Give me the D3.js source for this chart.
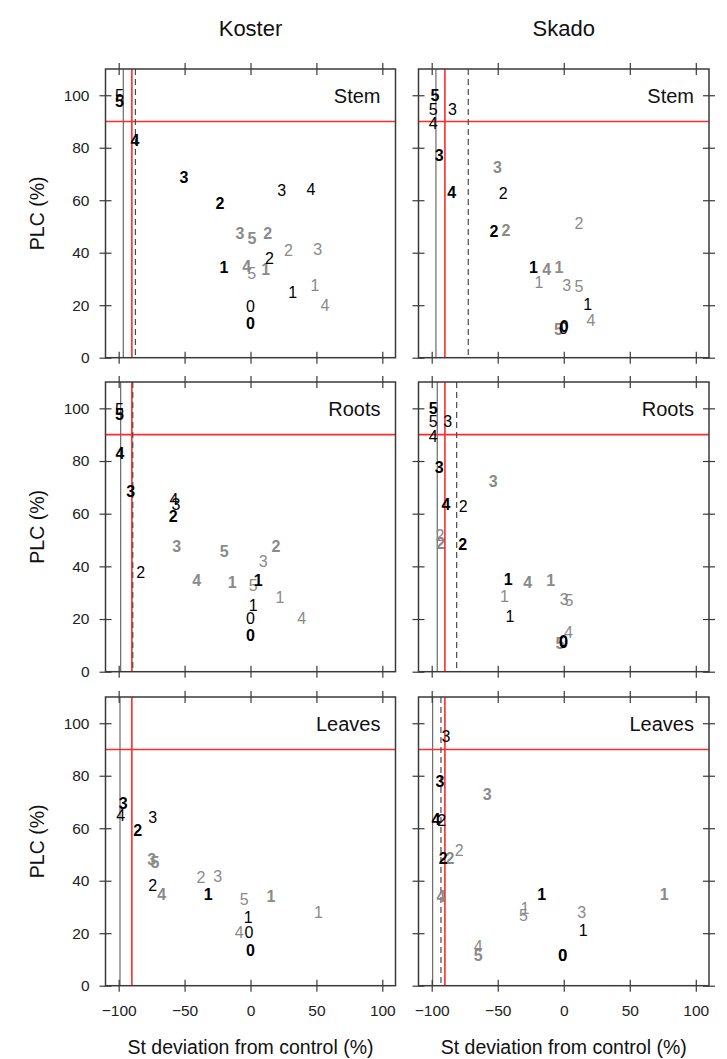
<!DOCTYPE html>
<html><head><meta charset="utf-8">
<script src="https://cdn.jsdelivr.net/npm/d3@7"></script>
<style>
body{margin:0;background:#fff}
text{font-family:"Liberation Sans",Arial,Helvetica,sans-serif}
</style>
</head><body>
<svg id="c" width="727" height="1059"></svg>
<script>
// ---------- data ----------
const cultivars = ["Koster", "Skado"];
const organs = ["Stem", "Roots", "Leaves"];
const pointLabels = ["0", "1", "2", "3", "4", "5"];
const xTicks = [-100, -50, 0, 50, 100];
const yTicks = [0, 20, 40, 60, 80, 100];
const xTitle = "St deviation from control (%)";
const yTitle = "PLC (%)";

// each array: [x, y] for labels 0..5 (null = not shown)
const kosterStemBlackBold   = [[0,13.1],[-20.1,34.3],[-23.1,58.9],[-50.5,68.8],[-87.6,82.7],[-99.5,97.6]];
const kosterStemBlackNormal = [[0,19.6],[32,24.7],[14.3,37.8],[23.6,63.7],[45.9,64],[-99.5,100]];
const kosterStemGreyBold    = [null,[11.5,33.6],[13,47.3],[-8,47.5],[-2.9,34.8],[1.1,45.4]];
const kosterStemGreyNormal  = [null,[48.9,27.6],[28.7,40.9],[51,41.2],[56.5,20],[0.9,32.1]];

const skadoStemBlackBold    = [[0.4,11.8],[-23,34.3],[-52.8,47.9],[-94.3,77],[-84.9,63],[-97.5,99.8]];
const skadoStemBlackNormal  = [[-0.3,11.2],[18.1,20.4],[-45.8,62.5],[-84.2,94.4],[-98.8,89.1],[-98.8,94.4]];
const skadoStemGreyBold     = [null,[-3.6,34.3],[-43.7,48.5],[-50.3,72.3],[-12.9,33.6],[-4.1,10.8]];
const skadoStemGreyNormal   = [null,[-18.8,28.5],[11.6,51],[2.2,27.4],[20.6,14.3],[11.6,27]];

const kosterRootsBlackBold   = [[0,13.6],[5.9,34.6],[-58.6,59.1],[-90.9,68.6],[-99,83],[-99.5,97.8]];
const kosterRootsBlackNormal = [[0,20.3],[2.1,25],[-83.3,37.7],[-56.5,63.4],[-58,65.2],[-99.5,99.7]];
const kosterRootsGreyBold    = [null,[-13.8,33.9],[19.3,47.4],[-56,47.4],[-40.8,34.7],[-19.9,45.7]];
const kosterRootsGreyNormal  = [null,[22.4,28],null,[9.7,41.7],[38.8,20.3],[2.1,32.7]];

const skadoRootsBlackBold    = [[-0.3,11.4],[-42,34.9],[-76.6,48.3],[-94.3,77.5],[-89.2,63.5],[-98.8,100]];
const skadoRootsBlackNormal  = [[-0.3,11],[-40.7,21],[-76.1,62.9],[-87.9,94.9],[-98.8,89.3],[-98.8,94.9]];
const skadoRootsGreyBold     = [null,[-9.9,34.6],[-93.2,48.7],[-53.4,72.4],[-27.3,33.7],[-2.8,10.6]];
const skadoRootsGreyNormal   = [null,[-45,28.6],[-93.8,51.8],[0.4,27.3],[3.5,14.9],[4,27.1]];

const kosterLeavesBlackBold   = [[0,13.5],[-32,34.6],[-85.6,59.3],[-96.5,69.5],null,null];
const kosterLeavesBlackNormal = [[-1.1,20.2],[-1.7,26.1],[-74.2,38],[-74.2,64.2],[-98.5,64.8],null];
const kosterLeavesGreyBold    = [null,[15.6,33.9],null,[-75,47.9],[-67.4,34.9],[-72.5,46.9]];
const kosterLeavesGreyNormal  = [null,[51.5,27.8],[-37.6,41.3],[-24.9,41.5],[-8.5,20.2],[-4.7,32.9]];

const skadoLeavesBlackBold    = [[-0.8,11.4],[-16.7,34.6],[-91.2,48.3],[-93.8,77.7],[-96.8,63.4],null];
const skadoLeavesBlackNormal  = [[-0.8,11.4],[14.8,21.2],[-92.5,62.9],[-89.2,94.9],null,null];
const skadoLeavesGreyBold     = [null,[76,34.6],[-86.2,48.5],[-57.9,72.9],[-93,33.9],[-64.7,11.4]];
const skadoLeavesGreyNormal   = [null,[-29.4,29.5],[-79.1,51.5],[13.6,27.8],[-64.7,14.9],[-30.6,26.9]];

// reference lines, panel order: Koster/Skado x Stem/Roots/Leaves
const solidLineX  = [-96.5, -96.8, -98.5, -95.8, -99, -99.3];
const dashedLineX = [-87.3, -72.3, -89.3, -81.1, null, -93];
const redLineX = -90;
const redLineY = 90;

// ---------- layout ----------
const panelData = [
  [kosterStemGreyNormal, kosterStemGreyBold, kosterStemBlackNormal, kosterStemBlackBold],
  [skadoStemGreyNormal, skadoStemGreyBold, skadoStemBlackNormal, skadoStemBlackBold],
  [kosterRootsGreyNormal, kosterRootsGreyBold, kosterRootsBlackNormal, kosterRootsBlackBold],
  [skadoRootsGreyNormal, skadoRootsGreyBold, skadoRootsBlackNormal, skadoRootsBlackBold],
  [kosterLeavesGreyNormal, kosterLeavesGreyBold, kosterLeavesBlackNormal, kosterLeavesBlackBold],
  [skadoLeavesGreyNormal, skadoLeavesGreyBold, skadoLeavesBlackNormal, skadoLeavesBlackBold]
];
const seriesStyle = [
  {fill:"#8a8a8a", weight:"normal"},
  {fill:"#8a8a8a", weight:"bold"},
  {fill:"#000", weight:"normal"},
  {fill:"#000", weight:"bold"}
];

const colX = [[105.5, 395.5], [418.5, 709]];
const rowY = [[69, 357.7], [382, 671.7], [697, 985.7]];
const boxColor = "#3a3a3a";
const tickLen = 6;

const svg = d3.select("#c");
svg.append("rect").attr("width",727).attr("height",1059).attr("fill","#fff");

// column titles
cultivars.forEach((c, ci) => {
  svg.append("text").attr("x", (colX[ci][0]+colX[ci][1])/2).attr("y", 36)
    .attr("text-anchor","middle").attr("font-size", 22).attr("fill","#111").text(c);
  svg.append("text").attr("x", (colX[ci][0]+colX[ci][1])/2).attr("y", 1054)
    .attr("text-anchor","middle").attr("font-size", 19.5).attr("fill","#111").text(xTitle);
});

organs.forEach((organ, ri) => {
  svg.append("text")
    .attr("transform", `translate(37,${(rowY[ri][0]+rowY[ri][1])/2}) rotate(-90)`)
    .attr("text-anchor","middle").attr("dominant-baseline","central")
    .attr("font-size", 19.5).attr("fill","#111").text(yTitle);

  cultivars.forEach((cult, ci) => {
    const pi = ri*2 + ci;
    const x = d3.scaleLinear().domain([-110, 110]).range(colX[ci]);
    const y = d3.scaleLinear().domain([0, 110]).range([rowY[ri][1], rowY[ri][0]]);
    const g = svg.append("g");
    const [x0, x1] = colX[ci];
    const [y0, y1] = rowY[ri];

    // clip
    const cid = "clip" + pi;
    svg.append("clipPath").attr("id", cid).append("rect")
      .attr("x", x0).attr("y", y0).attr("width", x1-x0).attr("height", y1-y0);
    const inner = g.append("g").attr("clip-path", `url(#${cid})`);

    // reference lines
    inner.append("line").attr("x1", x(solidLineX[pi])).attr("x2", x(solidLineX[pi]))
      .attr("y1", y0).attr("y2", y1).attr("stroke","#6a6a6a").attr("stroke-width",1.2);
    inner.append("line").attr("x1", x(redLineX)).attr("x2", x(redLineX))
      .attr("y1", y0).attr("y2", y1).attr("stroke","#ff2a2a").attr("stroke-width",1.6);
    inner.append("line").attr("x1", x0).attr("x2", x1)
      .attr("y1", y(redLineY)).attr("y2", y(redLineY)).attr("stroke","#ff2a2a").attr("stroke-width",1.6);
    if (dashedLineX[pi] !== null) {
      inner.append("line").attr("x1", x(dashedLineX[pi])).attr("x2", x(dashedLineX[pi]))
        .attr("y1", y0).attr("y2", y1).attr("stroke","#4a4a4a").attr("stroke-width",1.2)
        .attr("stroke-dasharray","6,4");
    }

    // point labels
    panelData[pi].forEach((series, si) => {
      const pts = series.map((p, k) => p ? {x:p[0], y:p[1], lab:pointLabels[k]} : null).filter(d => d);
      inner.selectAll(null).data(pts).enter().append("text")
        .attr("x", d => x(d.x)).attr("y", d => y(d.y))
        .attr("text-anchor","middle").attr("dominant-baseline","central")
        .attr("font-size", 16).attr("font-weight", seriesStyle[si].weight)
        .attr("fill", seriesStyle[si].fill).text(d => d.lab);
    });

    // panel label
    g.append("text").attr("x", x1 - 15).attr("y", y0 + 27)
      .attr("text-anchor","end").attr("dominant-baseline","central")
      .attr("font-size", 20).attr("fill","#111").text(organ);

    // axes
    const styleAxis = (sel) => {
      sel.select(".domain").remove();
      sel.selectAll(".tick line").attr("stroke", boxColor).attr("stroke-width",1.2);
      sel.selectAll(".tick text").attr("font-size", 15.5).attr("fill","#222")
        .attr("font-family",'"Liberation Sans",Arial,sans-serif');
    };
    // bottom
    const bottom = g.append("g").attr("transform", `translate(0,${y1})`)
      .call(d3.axisBottom(x).tickValues(xTicks).tickSize(tickLen).tickPadding(13)
        .tickFormat(ri === 2 ? d3.format("d") : () => ""));
    styleAxis(bottom);
    bottom.selectAll(".tick line").attr("y1", -tickLen);
    // top
    const top = g.append("g").attr("transform", `translate(0,${y0})`)
      .call(d3.axisTop(x).tickValues(xTicks).tickSize(tickLen).tickFormat(() => ""));
    styleAxis(top);
    top.selectAll(".tick line").attr("y1", tickLen);
    // left
    const left = g.append("g").attr("transform", `translate(${x0},0)`)
      .call(d3.axisLeft(y).tickValues(yTicks).tickSize(tickLen).tickPadding(10)
        .tickFormat(ci === 0 ? d3.format("d") : () => ""));
    styleAxis(left);
    left.selectAll(".tick line").attr("x1", tickLen);
    if (ci === 1) {
      const right = g.append("g").attr("transform", `translate(${x1},0)`)
        .call(d3.axisRight(y).tickValues(yTicks).tickSize(tickLen).tickFormat(() => ""));
      styleAxis(right);
      right.selectAll(".tick line").attr("x1", -tickLen);
    }

    // box
    g.append("rect").attr("x", x0).attr("y", y0).attr("width", x1-x0).attr("height", y1-y0)
      .attr("fill","none").attr("stroke", boxColor).attr("stroke-width",1.5);
  });
});
</script>
</body></html>
